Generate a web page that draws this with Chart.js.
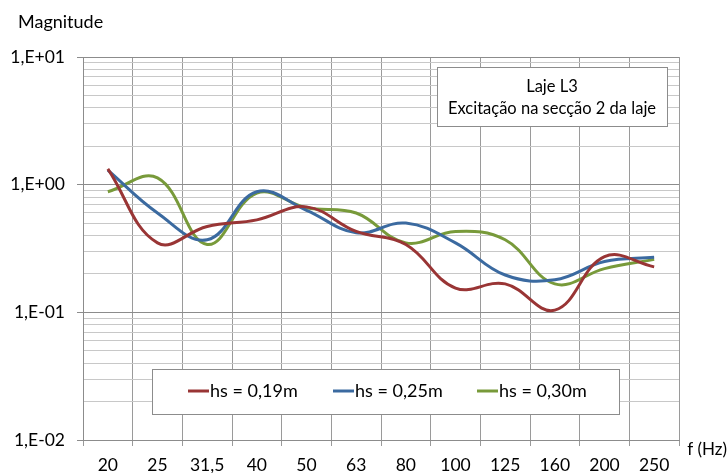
<!DOCTYPE html>
<html>
<head>
<meta charset="utf-8">
<script src="https://cdn.jsdelivr.net/npm/chart.js@4.4.1/dist/chart.umd.min.js"></script>
<style>
  html, body { margin: 0; padding: 0; background: #fff; }
  #wrap { position: relative; width: 728px; height: 473px; }
</style>
</head>
<body>
<div id="wrap"><canvas id="chart" width="728" height="473"></canvas></div>
<script>
// Frequency bands (Hz)
const freqLabels = ['20', '25', '31,5', '40', '50', '63', '80', '100', '125', '160', '200', '250'];

// Magnitude per slab thickness
const hs019 = [1.33, 0.35, 0.47, 0.53, 0.67, 0.43, 0.34, 0.155, 0.167, 0.104, 0.273, 0.227];
const hs025 = [1.30, 0.60, 0.37, 0.88, 0.63, 0.42, 0.50, 0.35, 0.196, 0.18, 0.25, 0.27];
const hs030 = [0.88, 1.13, 0.34, 0.86, 0.66, 0.60, 0.35, 0.43, 0.37, 0.167, 0.22, 0.26];

const seriesNames = ['hs = 0,19m', 'hs = 0,25m', 'hs = 0,30m'];
const seriesColors = ['#993535', '#3b6aa0', '#789a3a'];

const titleLines = ['Laje L3', 'Excitação na secção 2 da laje'];

const FONT = 'Lato, "Open Sans", sans-serif';

// Labels, legend box and title box drawn on the canvas
const decorations = {
  id: 'decorations',
  afterDraw(chart) {
    const ctx = chart.ctx;
    ctx.save();
    ctx.fillStyle = '#000';
    ctx.font = '18px ' + FONT;
    ctx.textBaseline = 'middle';
    ctx.textAlign = 'left';
    ctx.fillText('Magnitude', 18, 22);
    ctx.font = '17px ' + FONT;
    ctx.textAlign = 'right';
    ctx.fillText('f (Hz)', 727, 450);

    // title box
    ctx.fillStyle = '#fff';
    ctx.fillRect(437, 67, 230, 59);
    ctx.strokeStyle = '#8c8c8c';
    ctx.lineWidth = 1;
    ctx.strokeRect(437.5, 67.5, 230, 59);
    ctx.fillStyle = '#000';
    ctx.font = '16.5px ' + FONT;
    ctx.textAlign = 'center';
    ctx.fillText(titleLines[0], 552, 87);
    ctx.fillText(titleLines[1], 552, 109);

    // legend box
    ctx.fillStyle = '#fff';
    ctx.fillRect(152, 369, 467, 45);
    ctx.strokeStyle = '#8c8c8c';
    ctx.strokeRect(152.5, 369.5, 467, 45);
    const starts = [188, 333, 477];
    ctx.font = '18px ' + FONT;
    ctx.textAlign = 'left';
    seriesNames.forEach((name, i) => {
      ctx.strokeStyle = seriesColors[i];
      ctx.lineWidth = 3;
      ctx.beginPath();
      ctx.moveTo(starts[i], 391);
      ctx.lineTo(starts[i] + 21, 391);
      ctx.stroke();
      ctx.fillStyle = '#000';
      ctx.fillText(name, starts[i] + 22, 391);
    });
    ctx.restore();
  }
};

const isMajor = v => Math.abs(Math.log10(v) - Math.round(Math.log10(v))) < 1e-6;

new Chart(document.getElementById('chart'), {
  type: 'line',
  data: {
    labels: freqLabels,
    datasets: [hs019, hs025, hs030].map((d, i) => ({
      label: seriesNames[i],
      data: d,
      borderColor: seriesColors[i],
      backgroundColor: seriesColors[i],
      borderWidth: 3,
      pointRadius: 0,
      tension: 0.4,
      fill: false
    }))
  },
  options: {
    responsive: false,
    animation: false,
    layout: { padding: { top: 57, right: 49, left: 0, bottom: 0 } },
    plugins: { legend: { display: false }, tooltip: { enabled: false } },
    scales: {
      x: {
        offset: true,
        grid: {
          offset: true,
          color: '#9a9a9a',
          tickColor: '#9a9a9a',
          tickLength: 6,
          drawTicks: true
        },
        border: { color: '#8c8c8c' },
        ticks: { color: '#000', font: { family: FONT, size: 17.5 }, padding: 9, maxRotation: 0, autoSkip: false },
        afterFit(s) { s.height = 33; }
      },
      y: {
        type: 'logarithmic',
        min: 0.01,
        max: 10,
        afterBuildTicks(s) {
          const t = [];
          for (let e = -2; e <= 0; e++) {
            for (let m = 1; m <= 9; m++) t.push({ value: m * Math.pow(10, e) });
          }
          t.push({ value: 10 });
          s.ticks = t;
        },
        grid: {
          color: c => isMajor(c.tick.value) ? '#8c8c8c' : '#c8c8c8',
          tickColor: c => isMajor(c.tick.value) ? '#8c8c8c' : 'rgba(0,0,0,0)',
          tickLength: 6
        },
        border: { color: '#8c8c8c' },
        ticks: {
          color: '#000',
          font: { family: FONT, size: 17.5 },
          padding: 12,
          autoSkip: false,
          callback: v => {
            if (!isMajor(v)) return '';
            const e = Math.round(Math.log10(v));
            return '1,E' + (e < 0 ? '-' : '+') + String(Math.abs(e)).padStart(2, '0');
          }
        },
        afterFit(s) { s.width = 83; }
      }
    }
  },
  plugins: [decorations]
});
</script>
</body>
</html>
